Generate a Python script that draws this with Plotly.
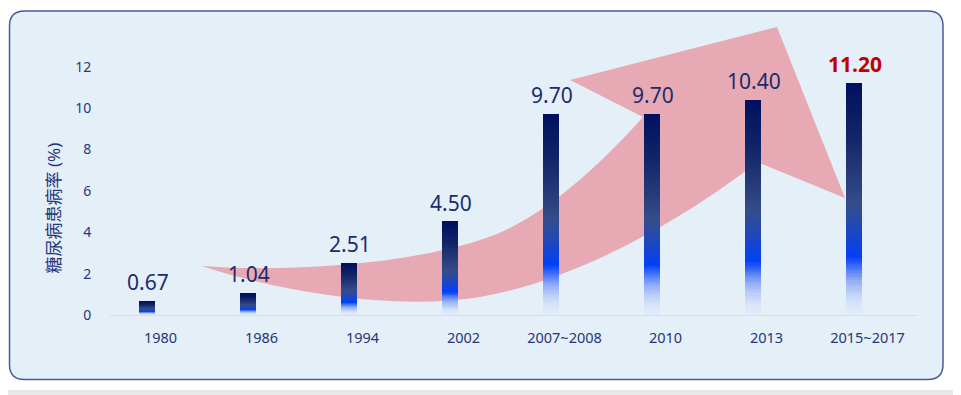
import plotly.graph_objects as go

# ---------------- data ----------------
categories = ["1980", "1986", "1994", "2002", "2007~2008", "2010", "2013", "2015~2017"]
prevalence = [0.67, 1.04, 2.51, 4.50, 9.70, 9.70, 10.40, 11.20]
value_labels = ["0.67", "1.04", "2.51", "4.50", "9.70", "9.70", "10.40", "11.20"]
y_tick_vals = [0, 2, 4, 6, 8, 10, 12]
y_title = "糖尿病患病率 (%)"

# ---------------- geometry / style ----------------
OFF = 8                      # page body margin of the html page
W, H = 961 - OFF, 395 - OFF  # figure size so that it fits the window
PL, PR, PT, PB = 110, 918, 46, 315   # plot area in window pixels
ML, MR, MT, MB = PL - OFF, W - (PR - OFF), PT - OFF, H - (PB - OFF)
PW, PH = W - ML - MR, H - MT - MB
FONT = "Noto Sans, Noto Sans CJK SC, sans-serif"
TXT = "#26367A"


def pxx(x):
    return (x - PL) / PW


def pxy(y):
    return (PB - y) / PH


def pp(x, y):
    """window pixel -> paper coordinate string"""
    return f"{pxx(x):.5f},{pxy(y):.5f}"


# vertical gradient of bars: fraction from bottom -> rgba
stops = [
    (0.00, (222, 233, 250, 0.30)),
    (0.06, (205, 219, 247, 0.75)),
    (0.15, (140, 168, 245, 0.95)),
    (0.25, (0, 64, 248, 1.0)),
    (0.36, (29, 71, 192, 1.0)),
    (0.48, (52, 77, 138, 1.0)),
    (0.58, (42, 62, 124, 1.0)),
    (0.78, (18, 36, 104, 1.0)),
    (1.00, (0, 16, 96, 1.0)),
]


def grad(f):
    for (f0, c0), (f1, c1) in zip(stops[:-1], stops[1:]):
        if f0 <= f <= f1:
            t = (f - f0) / (f1 - f0)
            c = [c0[i] + (c1[i] - c0[i]) * t for i in range(4)]
            return f"rgba({c[0]:.0f},{c[1]:.0f},{c[2]:.0f},{c[3]:.3f})"
    return "rgba(0,16,96,1)"


N = 100
fig = go.Figure()
for k in range(N):
    f = (k + 0.5) / N
    fig.add_trace(go.Bar(
        x=categories,
        y=[v / N for v in prevalence],
        offset=-0.21,
        width=0.16,
        marker=dict(color=grad(f), line=dict(width=0)),
        showlegend=False,
        hoverinfo="skip",
    ))

# value labels
for i, (v, lab) in enumerate(zip(prevalence, value_labels)):
    last = i == len(categories) - 1
    fig.add_annotation(
        x=i, y=v, text=f"<b>{lab}</b>" if last else lab,
        xshift=-13, yshift=3, yanchor="bottom", showarrow=False,
        font=dict(family=FONT, size=21, color="#C00000" if last else "#1C2B6C"),
    )

# y-axis title
fig.add_annotation(
    xref="paper", yref="paper", x=pxx(53), y=pxy(208.5), text=y_title,
    textangle=-90, showarrow=False, xanchor="center", yanchor="middle",
    font=dict(family=FONT, size=17, color=TXT),
)

# ---------------- decorations ----------------
x0, y0, x1, y1, r = 9.5, 11, 943, 379.5, 15
panel = (f"M {pp(x0 + r, y0)} L {pp(x1 - r, y0)} Q {pp(x1, y0)} {pp(x1, y0 + r)} "
         f"L {pp(x1, y1 - r)} Q {pp(x1, y1)} {pp(x1 - r, y1)} "
         f"L {pp(x0 + r, y1)} Q {pp(x0, y1)} {pp(x0, y1 - r)} "
         f"L {pp(x0, y0 + r)} Q {pp(x0, y0)} {pp(x0 + r, y0)} Z")

arrow = (f"M {pp(202, 266)} C {pp(290, 295)} {pp(400, 310)} {pp(480, 297)} "
         f"C {pp(580, 280)} {pp(690, 215)} {pp(757, 162)} "
         f"L {pp(845, 198)} L {pp(777, 27)} L {pp(570, 80)} L {pp(643, 117)} "
         f"C {pp(600, 165)} {pp(540, 222)} {pp(480, 240)} "
         f"C {pp(400, 266)} {pp(280, 272)} {pp(202, 266)} Z")

fig.update_layout(shapes=[
    dict(type="rect", xref="paper", yref="paper", x0=pxx(0), x1=pxx(961), y0=pxy(390), y1=pxy(395),
         fillcolor="#E8E8E8", line=dict(width=0), layer="below"),
    dict(type="rect", xref="paper", yref="paper", x0=pxx(956), x1=pxx(961), y0=pxy(0), y1=pxy(395),
         fillcolor="#EDEDED", line=dict(width=0), layer="below"),
    dict(type="path", xref="paper", yref="paper", path=panel,
         fillcolor="#E4EFF8", line=dict(color="#4A5A9A", width=1.5), layer="below"),
    dict(type="path", xref="paper", yref="paper", path=arrow,
         fillcolor="#E7A9B3", line=dict(width=0), layer="below"),
])

fig.update_layout(
    width=W, height=H,
    margin=dict(l=ML, r=MR, t=MT, b=MB),
    paper_bgcolor="white",
    plot_bgcolor="rgba(0,0,0,0)",
    barmode="stack",
    bargap=0,
    font=dict(family=FONT, color=TXT),
    xaxis=dict(
        type="category", categoryorder="array", categoryarray=categories,
        range=[-0.5, len(categories) - 0.5],
        showgrid=False, zeroline=False,
        showline=True, linecolor="#D6DEE8", linewidth=1,
        ticks="outside", ticklen=10, tickcolor="rgba(0,0,0,0)",
        tickfont=dict(family=FONT, size=14.5, color=TXT),
    ),
    yaxis=dict(
        range=[0, 13], tickvals=y_tick_vals,
        showgrid=False, zeroline=False, showline=False,
        ticks="outside", ticklen=15, tickcolor="rgba(0,0,0,0)",
        tickfont=dict(family=FONT, size=14, color=TXT),
    ),
)

fig.write_html("out.html")
